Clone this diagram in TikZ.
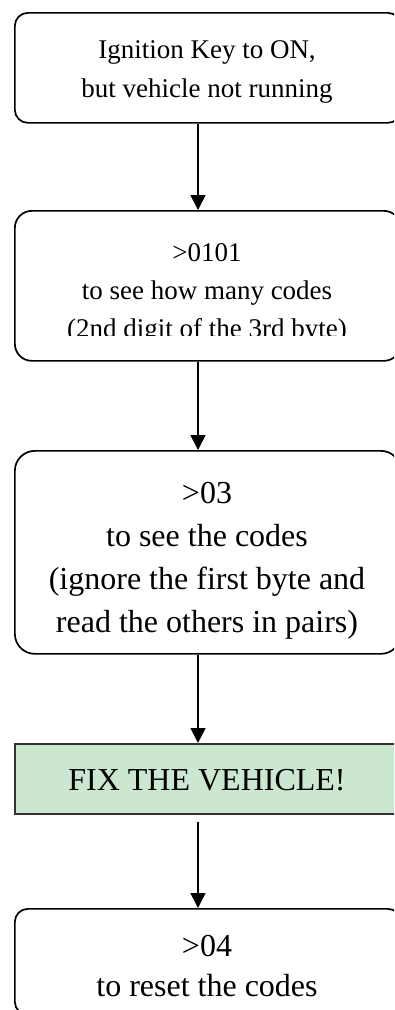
\documentclass[tikz,border=0pt]{standalone}
\usepackage{fontspec}
\setmainfont{Liberation Serif}
\usetikzlibrary{arrows.meta}
\definecolor{fixgreen}{HTML}{CCE7D0}
\definecolor{fixborder}{HTML}{333333}
\tikzset{
  stepbox/.style={draw=black, line width=1.7pt, anchor=north west, inner sep=0pt, minimum width=386pt},
  fixbox/.style={draw=fixborder, fill=fixgreen, line width=2pt, anchor=north west, inner sep=0pt, minimum width=386pt},
  small/.style={anchor=base, inner sep=0pt, font=\fontsize{27}{38}\selectfont},
  big/.style={anchor=base, inner sep=0pt, font=\fontsize{32}{43}\selectfont},
  arr/.style={line width=1.7pt, -{Triangle[length=15pt,width=15pt]}}
}
\begin{document}
\begin{tikzpicture}[x=1pt,y=-1pt]
\useasboundingbox (0,0) rectangle (394,1010);
\clip (0,0) rectangle (394,1010);
% boxes
\node[stepbox, rounded corners=13pt, minimum height=110pt] (b1) at (14,12) {};
\node[stepbox, rounded corners=17pt, minimum height=150pt] (b2) at (14,210) {};
\node[stepbox, rounded corners=20pt, minimum height=203pt] (b3) at (14,450) {};
\node[fixbox, minimum height=70pt] (b4) at (14,743) {};
\node[stepbox, rounded corners=13pt, minimum height=106pt] (b5) at (14,908) {};
% texts
\node[small] (t1a) at (207,58) {Ignition Key to ON,};
\node[small] (t1b) at (207,97) {but vehicle not running};
\node[small] (t2a) at (207,261) {>0101};
\node[small] (t2b) at (207,299) {to see how many codes};
\begin{scope}
\clip (0,300) rectangle (394,335);
\node[small] (t2c) at (207,337) {(2nd digit of the 3rd byte)};
\end{scope}
\node[big] (t3a) at (207,503) {>03};
\node[big] (t3b) at (207,546) {to see the codes};
\node[big] (t3c) at (207,589) {(ignore the first byte and};
\node[big] (t3d) at (207,632) {read the others in pairs)};
\node[big] (t4) at (207,790) {FIX THE VEHICLE!};
\node[big] (t5a) at (207,956) {>04};
\node[big] (t5b) at (207,996) {to reset the codes};
% connectors
\coordinate (ax) at (198,0);
\draw[arr] (b1.south -| ax) -- (b2.north -| ax);
\draw[arr] (b2.south -| ax) -- (b3.north -| ax);
\draw[arr] (b3.south -| ax) -- (b4.north -| ax);
\draw[arr, shorten <=7pt] (b4.south -| ax) -- (b5.north -| ax);
\end{tikzpicture}
\end{document}
